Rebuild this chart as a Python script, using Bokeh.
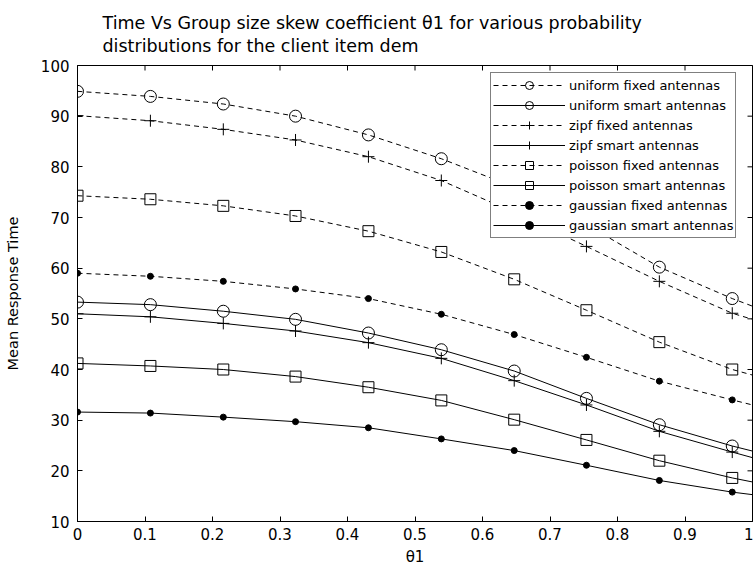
import math
from bokeh.plotting import figure
from bokeh.models import Range1d, FixedTicker, Legend, LegendItem, Title
from bokeh.embed import file_html
from bokeh.resources import INLINE

# Skew coefficient values where the markers sit; line data continues to theta1 = 1
theta_marks = [0, 0.108, 0.216, 0.323, 0.431, 0.539, 0.647, 0.754, 0.862, 0.97]
theta_end = 1.0

uniform_fixed = [94.9, 93.9, 92.4, 90.0, 86.3, 81.6, 76.0, 68.6, 60.2, 54.0]
uniform_smart = [53.3, 52.8, 51.5, 49.9, 47.2, 43.9, 39.7, 34.3, 29.1, 24.9]
zipf_fixed = [90.1, 89.1, 87.4, 85.3, 82.0, 77.3, 71.0, 64.3, 57.4, 51.1]
zipf_smart = [51.0, 50.4, 49.1, 47.6, 45.3, 42.2, 37.8, 33.0, 27.8, 23.7]
poisson_fixed = [74.3, 73.6, 72.3, 70.3, 67.3, 63.2, 57.8, 51.7, 45.4, 40.0]
poisson_smart = [41.2, 40.7, 40.0, 38.6, 36.5, 33.9, 30.1, 26.1, 22.0, 18.6]
gaussian_fixed = [59.0, 58.4, 57.4, 55.9, 54.0, 50.9, 46.9, 42.4, 37.7, 34.0]
gaussian_smart = [31.6, 31.4, 30.6, 29.7, 28.5, 26.3, 24.0, 21.1, 18.1, 15.8]

# Value of each curve at the right edge (theta1 = 1)
end_values = {
    "uniform fixed antennas": 52.5,
    "uniform smart antennas": 23.9,
    "zipf fixed antennas": 49.9,
    "zipf smart antennas": 22.6,
    "poisson fixed antennas": 38.9,
    "poisson smart antennas": 17.8,
    "gaussian fixed antennas": 33.0,
    "gaussian smart antennas": 15.3,
}

series = [
    ("uniform fixed antennas", uniform_fixed, "circle", "dashed"),
    ("uniform smart antennas", uniform_smart, "circle", "solid"),
    ("zipf fixed antennas", zipf_fixed, "cross", "dashed"),
    ("zipf smart antennas", zipf_smart, "cross", "solid"),
    ("poisson fixed antennas", poisson_fixed, "square", "dashed"),
    ("poisson smart antennas", poisson_smart, "square", "solid"),
    ("gaussian fixed antennas", gaussian_fixed, "dot", "dashed"),
    ("gaussian smart antennas", gaussian_smart, "dot", "solid"),
]

x_ticks = [0, 0.1, 0.2, 0.3, 0.4, 0.5, 0.6, 0.7, 0.8, 0.9, 1.0]
x_tick_labels = ["0", "0.1", "0.2", "0.3", "0.4", "0.5", "0.6", "0.7", "0.8", "0.9", "1"]
y_ticks = [10, 20, 30, 40, 50, 60, 70, 80, 90, 100]
x_lo, x_hi = 0, 1
y_lo, y_hi = 10, 100

title_lines = ["Time Vs Group size skew coefficient θ1 for various probability",
               "distributions for the client item dem"]

FONT = "DejaVu Sans"

p = figure(width=753, height=579, output_backend="svg", toolbar_location=None,
           x_range=Range1d(x_lo, x_hi), y_range=Range1d(y_lo, y_hi),
           min_border_left=77, min_border_right=1, min_border_top=65,
           min_border_bottom=58)
p.background_fill_color = "white"
p.border_fill_color = "white"
p.outline_line_color = "black"
p.outline_line_width = 1
p.xgrid.visible = False
p.ygrid.visible = False

def style_axis(ax):
    ax.major_tick_in = 5
    ax.major_tick_out = 0
    ax.minor_tick_in = 0
    ax.minor_tick_out = 0
    ax.axis_line_color = "black"
    ax.major_tick_line_color = "black"
    ax.major_label_text_font = FONT
    ax.major_label_text_font_size = "15px"
    ax.major_label_text_color = "black"
    ax.axis_label_text_font = FONT
    ax.axis_label_text_font_style = "normal"
    ax.axis_label_text_color = "black"

xax = p.xaxis[0]
xax.ticker = FixedTicker(ticks=x_ticks)
xax.major_label_overrides = {t: s for t, s in zip(x_ticks, x_tick_labels)}
style_axis(xax)
xax.major_label_standoff = 6
xax.axis_label = "θ1"
xax.axis_label_text_font_size = "15px"
xax.axis_label_standoff = 5

yax = p.yaxis[0]
yax.ticker = FixedTicker(ticks=y_ticks)
style_axis(yax)
yax.major_label_standoff = 8
yax.axis_label = "Mean Response Time"
yax.axis_label_text_font_size = "14.5px"
yax.axis_label_standoff = 17

# Inward tick marks along the top and right edges of the box
p.scatter(x_ticks, [y_hi] * len(x_ticks), marker="dash", size=10,
          angle=math.pi / 2, line_color="black", line_width=1)
p.scatter([x_hi] * len(y_ticks), y_ticks, marker="dash", size=10,
          line_color="black", line_width=1)

items = []
for label, vals, marker, dash in series:
    xs = theta_marks + [theta_end]
    ys = vals + [end_values[label]]
    line_r = p.line(xs, ys, line_color="black", line_width=1,
                    line_dash="5 4" if dash == "dashed" else "solid")
    if marker == "circle":
        mk = p.scatter(theta_marks, vals, marker="circle", size=12,
                       fill_color=None, line_color="black", line_width=1)
    elif marker == "square":
        mk = p.scatter(theta_marks, vals, marker="square", size=11,
                       fill_color=None, line_color="black", line_width=1)
    elif marker == "cross":
        mk = p.scatter(theta_marks, vals, marker="cross", size=12,
                       line_color="black", line_width=1)
    else:
        mk = p.scatter(theta_marks, vals, marker="circle", size=6,
                       fill_color="black", line_color="black")
    items.append(LegendItem(label=label, renderers=[line_r, mk]))

legend = Legend(items=items, location=(413, 283))
legend.border_line_color = "black"
legend.border_line_width = 1
legend.background_fill_color = "white"
legend.background_fill_alpha = 1
legend.label_text_font = FONT
legend.label_text_font_size = "13px"
legend.label_text_color = "black"
legend.label_height = 20
legend.glyph_height = 20
legend.glyph_width = 72
legend.label_standoff = 4
legend.spacing = 0
legend.padding = 2
legend.margin = 0
p.add_layout(legend, "center")

# Two-line title above the box
p.add_layout(Title(text="\n".join(title_lines), align="left",
                   text_font=FONT, text_font_size="17.5px", text_color="black",
                   text_font_style="normal", text_line_height=1.15,
                   offset=25, standoff=20), "above")

open("out.html", "w").write(file_html(p, INLINE))
